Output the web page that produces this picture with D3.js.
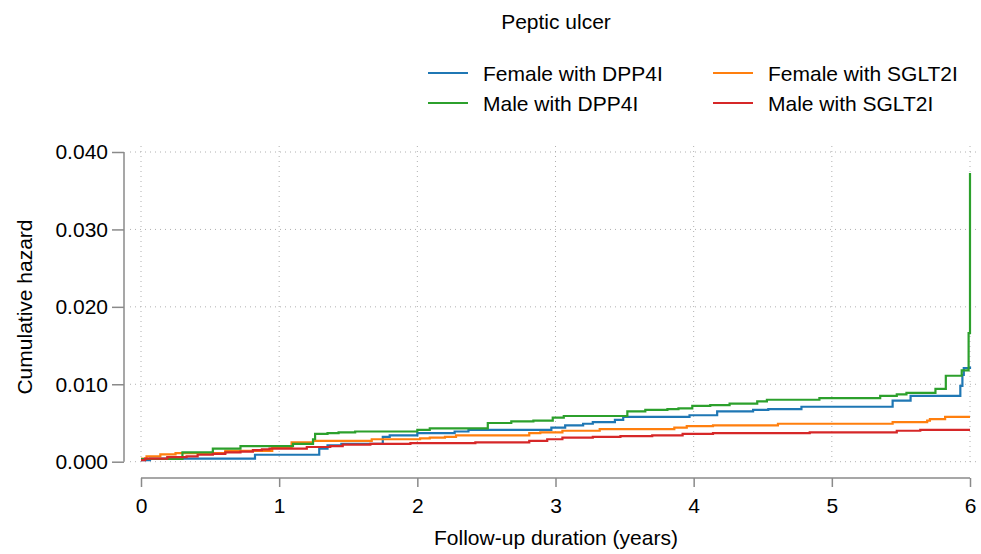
<!DOCTYPE html>
<html><head><meta charset="utf-8">
<script src="https://cdn.jsdelivr.net/npm/d3@7"></script>
<style>body{margin:0;background:#fff}svg{display:block;font-family:"Liberation Sans",Arial,sans-serif}</style>
</head><body><svg id="c" width="981" height="554"></svg>
<script>
const title = "Peptic ulcer";
const seriesNames = ["Female with DPP4I","Female with SGLT2I","Male with DPP4I","Male with SGLT2I"];
const seriesColors = ["#1f77b4","#ff7f0e","#2ca02c","#d62728"];
const xTicks = [0,1,2,3,4,5,6];
const yTicks = [0,0.01,0.02,0.03,0.04];

// step data [time (years), cumulative hazard]
const femaleDPP4I = [[0,0.0002],[0.065,0.0004],[0.825,0.0009],[1.29,0.0017],[1.35,0.0021],[1.45,0.0023],[1.75,0.0032],[1.80,0.0034],[2.00,0.0037],[2.27,0.0039],[2.37,0.0041],[2.97,0.0044],[3.07,0.0047],[3.20,0.0049],[3.27,0.0051],[3.43,0.0054],[3.49,0.0058],[3.97,0.0060],[4.17,0.0065],[4.43,0.0067],[4.54,0.0068],[4.78,0.0071],[5.44,0.0079],[5.57,0.0085],[5.93,0.0098],[5.945,0.0112],[5.955,0.0121],[6.0,0.0123]];
const femaleSGLT2I = [[0,0.0004],[0.04,0.0007],[0.14,0.00095],[0.25,0.0011],[0.61,0.0014],[0.95,0.0019],[1.09,0.0025],[1.245,0.0027],[1.67,0.0029],[2.02,0.0030],[2.09,0.0031],[2.20,0.0032],[2.28,0.0034],[2.81,0.0037],[2.89,0.0038],[3.05,0.0040],[3.32,0.0042],[3.86,0.0044],[3.95,0.0046],[4.14,0.0047],[4.61,0.0049],[5.44,0.0051],[5.69,0.0053],[5.71,0.0055],[5.82,0.0058],[6.0,0.0058]];
const maleDPP4I = [[0,0.00035],[0.30,0.0012],[0.52,0.0017],[0.72,0.0020],[1.10,0.0023],[1.245,0.0029],[1.26,0.0036],[1.35,0.0037],[1.43,0.0038],[1.55,0.0039],[2.00,0.0041],[2.09,0.0043],[2.51,0.0050],[2.68,0.0052],[2.84,0.0053],[2.98,0.0057],[3.06,0.0059],[3.52,0.0065],[3.65,0.0067],[3.81,0.0068],[3.89,0.0069],[3.99,0.0072],[4.12,0.0073],[4.26,0.0075],[4.46,0.0078],[4.53,0.0080],[4.91,0.0082],[5.35,0.0085],[5.47,0.0087],[5.54,0.0089],[5.75,0.0094],[5.825,0.0111],[5.94,0.0118],[5.99,0.0166],[6.0,0.0373]];
const maleSGLT2I = [[0,0.0002],[0.03,0.0004],[0.19,0.0006],[0.33,0.0007],[0.41,0.0009],[0.52,0.0010],[0.61,0.0012],[0.72,0.0013],[0.81,0.0015],[0.875,0.0016],[0.93,0.0017],[1.20,0.0019],[1.37,0.0020],[1.46,0.0022],[1.66,0.0023],[1.95,0.0024],[2.42,0.0025],[2.81,0.0027],[2.94,0.0029],[3.05,0.0031],[3.27,0.0032],[3.47,0.0033],[3.70,0.0034],[3.92,0.0036],[4.14,0.0037],[4.84,0.0038],[5.47,0.0040],[5.64,0.0041],[6.0,0.0041]];
const seriesData = [femaleDPP4I, femaleSGLT2I, maleDPP4I, maleSGLT2I];

const svg = d3.select("#c");
const x = d3.scaleLinear().domain([0,6]).range([141,970]);
const y = d3.scaleLinear().domain([0,0.04]).range([461.7,152]);
const gridColor = "#b0b0b0", axisColor = "#8a8a8a";
const fs = "21px";

// grid
const grid = svg.append("g");
grid.selectAll("line.h").data(yTicks).join("line")
  .attr("x1",130).attr("x2",977).attr("y1",d=>y(d)).attr("y2",d=>y(d))
  .attr("stroke",gridColor).attr("stroke-width",1).attr("stroke-dasharray","1,4");
grid.selectAll("line.v").data(xTicks).join("line")
  .attr("x1",d=>x(d)).attr("x2",d=>x(d)).attr("y1",146).attr("y2",466)
  .attr("stroke",gridColor).attr("stroke-width",1).attr("stroke-dasharray","1,4");

// axes
const yAxis = svg.append("g").attr("transform","translate(124,0)")
  .call(d3.axisLeft(y).tickValues(yTicks).tickFormat(d3.format(".3f")).tickSize(12).tickPadding(4));
const xAxis = svg.append("g").attr("transform","translate(0,478)")
  .call(d3.axisBottom(x).tickValues(xTicks).tickFormat(d3.format("d")).tickSize(9).tickPadding(11));
[yAxis,xAxis].forEach(a=>{
  a.select(".domain").attr("stroke",axisColor).attr("stroke-width",1.5);
  a.selectAll(".tick line").attr("stroke",axisColor).attr("stroke-width",1.5);
  a.selectAll("text").attr("fill","#000").style("font-size",fs).style("font-family","'Liberation Sans',Arial,sans-serif");
});
yAxis.select(".domain").attr("d","M-0,152H0V461.7H-0");
xAxis.select(".domain").attr("d","M141,0V0H970V0");

// lines
const line = d3.line().x(d=>x(d[0])).y(d=>y(d[1])).curve(d3.curveStepAfter);
svg.append("g").selectAll("path").data(seriesData).join("path")
  .attr("d",line).attr("fill","none")
  .attr("stroke",(d,i)=>seriesColors[i]).attr("stroke-width",2.2);

// titles
svg.append("text").attr("x",556).attr("y",29).attr("text-anchor","middle")
  .style("font-size",fs).text(title);
svg.append("text").attr("x",556).attr("y",545).attr("text-anchor","middle")
  .style("font-size",fs).text("Follow-up duration (years)");
svg.append("text").attr("transform","translate(32,307) rotate(-90)").attr("text-anchor","middle")
  .style("font-size",fs).text("Cumulative hazard");

// legend
const legPos = [[428,73],[713,73],[428,103],[713,103]];
const leg = svg.append("g").selectAll("g").data(seriesNames).join("g")
  .attr("transform",(d,i)=>`translate(${legPos[i][0]},${legPos[i][1]})`);
leg.append("line").attr("x1",0).attr("x2",40).attr("y1",0).attr("y2",0)
  .attr("stroke",(d,i)=>seriesColors[i]).attr("stroke-width",2.2);
leg.append("text").attr("x",55).attr("y",7.5).style("font-size",fs).text(d=>d);
</script></body></html>
